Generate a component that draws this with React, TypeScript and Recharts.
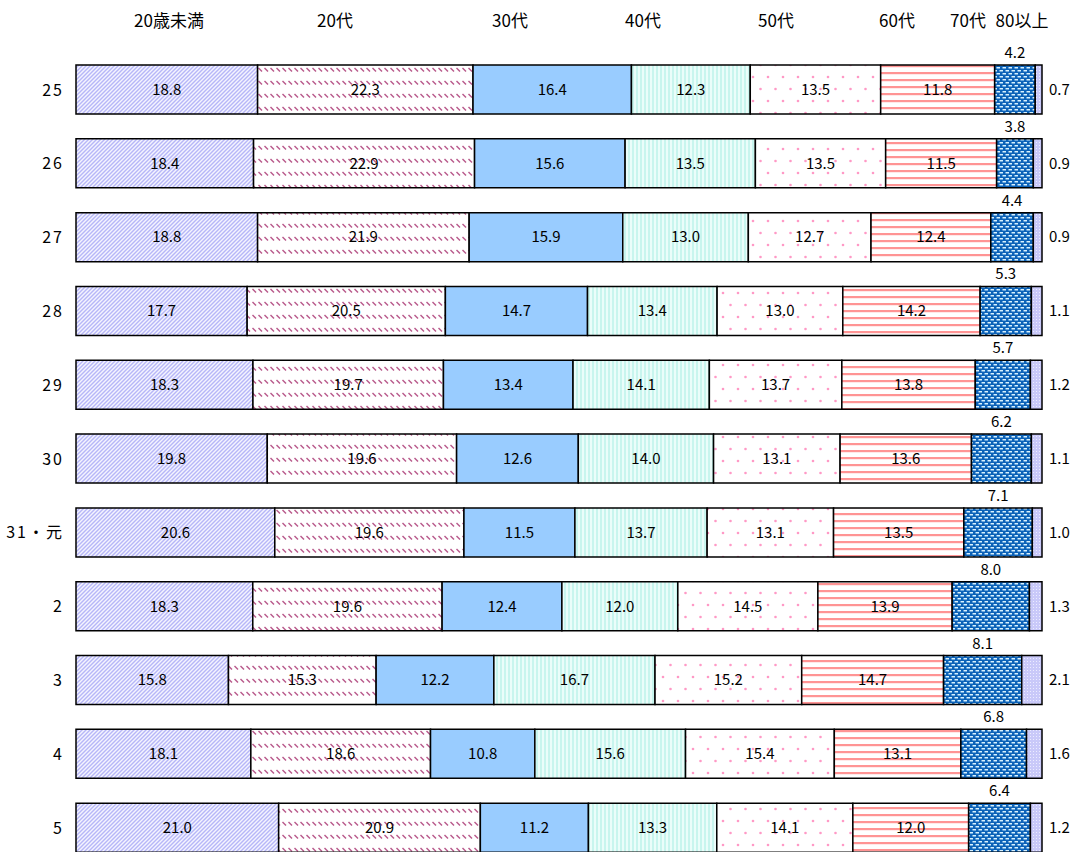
import React from 'react';
import { BarChart, Bar, XAxis, YAxis, LabelList } from 'recharts';

// 年度
const years = ['25', '26', '27', '28', '29', '30', '31・元', '2', '3', '4', '5'];

// 年齢層
const ageGroups = ['20歳未満', '20代', '30代', '40代', '50代', '60代', '70代', '80以上'];

// 構成比 (%)
const under20 = [18.8, 18.4, 18.8, 17.7, 18.3, 19.8, 20.6, 18.3, 15.8, 18.1, 21.0];
const age20s = [22.3, 22.9, 21.9, 20.5, 19.7, 19.6, 19.6, 19.6, 15.3, 18.6, 20.9];
const age30s = [16.4, 15.6, 15.9, 14.7, 13.4, 12.6, 11.5, 12.4, 12.2, 10.8, 11.2];
const age40s = [12.3, 13.5, 13.0, 13.4, 14.1, 14.0, 13.7, 12.0, 16.7, 15.6, 13.3];
const age50s = [13.5, 13.5, 12.7, 13.0, 13.7, 13.1, 13.1, 14.5, 15.2, 15.4, 14.1];
const age60s = [11.8, 11.5, 12.4, 14.2, 13.8, 13.6, 13.5, 13.9, 14.7, 13.1, 12.0];
const age70s = [4.2, 3.8, 4.4, 5.3, 5.7, 6.2, 7.1, 8.0, 8.1, 6.8, 6.4];
const over80 = [0.7, 0.9, 0.9, 1.1, 1.2, 1.1, 1.0, 1.3, 2.1, 1.6, 1.2];

const seriesKeys = ['a', 'b', 'c', 'd', 'e', 'f', 'g', 'h'];
const seriesValues = [under20, age20s, age30s, age40s, age50s, age60s, age70s, over80];
const fills = [
  'url(#pUnder20)',
  'url(#p20s)',
  '#99ccff',
  'url(#p40s)',
  'url(#p50s)',
  'url(#p60s)',
  'url(#p70s)',
  'url(#p80)',
];

const data = years.map((year, i) => {
  const row: Record<string, string | number> = { year };
  seriesKeys.forEach((k, s) => {
    row[k] = seriesValues[s][i];
  });
  return row;
});

// header label centres (px, page coords)
const headerX = [169, 335, 510, 643, 776, 897, 968, 1022];

const FONT = '"Noto Sans CJK JP", "Noto Sans", sans-serif';
const fmt = (v: any) => Number(v).toFixed(1);

const App: React.FC = () => {
  return (
    <div
      style={{
        position: 'absolute',
        left: 0,
        top: 0,
        width: 1073,
        height: 852,
        overflow: 'hidden',
        background: '#fff',
        fontFamily: FONT,
      }}
    >
      {ageGroups.map((g, i) => (
        <div
          key={g}
          style={{
            position: 'absolute',
            left: headerX[i],
            top: 8,
            transform: 'translateX(-50%)',
            fontSize: 17,
            lineHeight: '24px',
            color: '#000',
            whiteSpace: 'nowrap',
          }}
        >
          {g}
        </div>
      ))}
      <BarChart
        width={1073}
        height={880}
        data={data}
        layout="vertical"
        stackOffset="expand"
        margin={{ top: 53, right: 31, left: 0, bottom: 15 }}
      >
        <defs>
          <pattern id="pUnder20" patternUnits="userSpaceOnUse" width="4" height="4">
            <rect width="4" height="4" fill="#f4f4ff" />
            <path d="M-1,1 l2,-2 M0,4 l4,-4 M3,5 l2,-2" stroke="#b6b6f8" strokeWidth="1.4" />
          </pattern>
          <pattern id="p20s" patternUnits="userSpaceOnUse" width="6" height="13">
            <rect width="6" height="13" fill="#ffffff" />
            <path d="M0.5,3 L4,6.5" stroke="#b8588a" strokeWidth="1.5" />
          </pattern>
          <pattern id="p40s" patternUnits="userSpaceOnUse" width="4" height="4">
            <rect width="4" height="4" fill="#eafdfa" />
            <rect x="0" width="2" height="4" fill="#c8f5ee" />
          </pattern>
          <pattern id="p50s" patternUnits="userSpaceOnUse" width="15" height="24">
            <rect width="15" height="24" fill="#ffffff" />
            <circle cx="3" cy="5" r="1.3" fill="#ff99c6" />
            <circle cx="10.5" cy="17" r="1.3" fill="#ff99c6" />
          </pattern>
          <pattern id="p60s" patternUnits="userSpaceOnUse" width="6" height="7">
            <rect width="6" height="7" fill="#ffffff" />
            <rect y="2" width="6" height="2.2" fill="#ff9494" />
          </pattern>
          <pattern id="p70s" patternUnits="userSpaceOnUse" width="6" height="6">
            <rect width="6" height="6" fill="#0c62b8" />
            <rect x="0.5" y="1" width="3.5" height="1.5" fill="#d8f2ff" />
            <rect x="3.5" y="4" width="3.5" height="1.5" fill="#d8f2ff" />
            <rect x="-2.5" y="4" width="3.5" height="1.5" fill="#d8f2ff" />
          </pattern>
          <pattern id="p80" patternUnits="userSpaceOnUse" width="3" height="3">
            <rect width="3" height="3" fill="#c9c9f9" />
            <rect x="1" y="1" width="1" height="1" fill="#ececff" />
          </pattern>
        </defs>
        <XAxis type="number" domain={[0, 1]} hide />
        <YAxis
          type="category"
          dataKey="year"
          width={76}
          axisLine={false}
          tickLine={false}
          tickSize={0}
          tickMargin={12}
          tick={{ fontSize: 16, fill: '#000', fontFamily: FONT, letterSpacing: 2 }}
        />
        {seriesKeys.map((k, s) => (
          <Bar
            key={k}
            dataKey={k}
            stackId="age"
            fill={fills[s]}
            stroke="#000"
            strokeWidth={1.5}
            barSize={49}
            isAnimationActive={false}
          >
            {s < 6 && (
              <LabelList
                dataKey={k}
                position="center"
                formatter={fmt}
                fill="#000"
                fontSize={15}
                fontFamily={FONT}
              />
            )}
            {s === 6 && (
              <LabelList
                dataKey={k}
                position="top"
                offset={7}
                formatter={fmt}
                fill="#000"
                fontSize={15}
                fontFamily={FONT}
              />
            )}
            {s === 7 && (
              <LabelList
                dataKey={k}
                position="right"
                offset={7}
                formatter={fmt}
                fill="#000"
                fontSize={15}
                fontFamily={FONT}
              />
            )}
          </Bar>
        ))}
      </BarChart>
    </div>
  );
};

export default App;
